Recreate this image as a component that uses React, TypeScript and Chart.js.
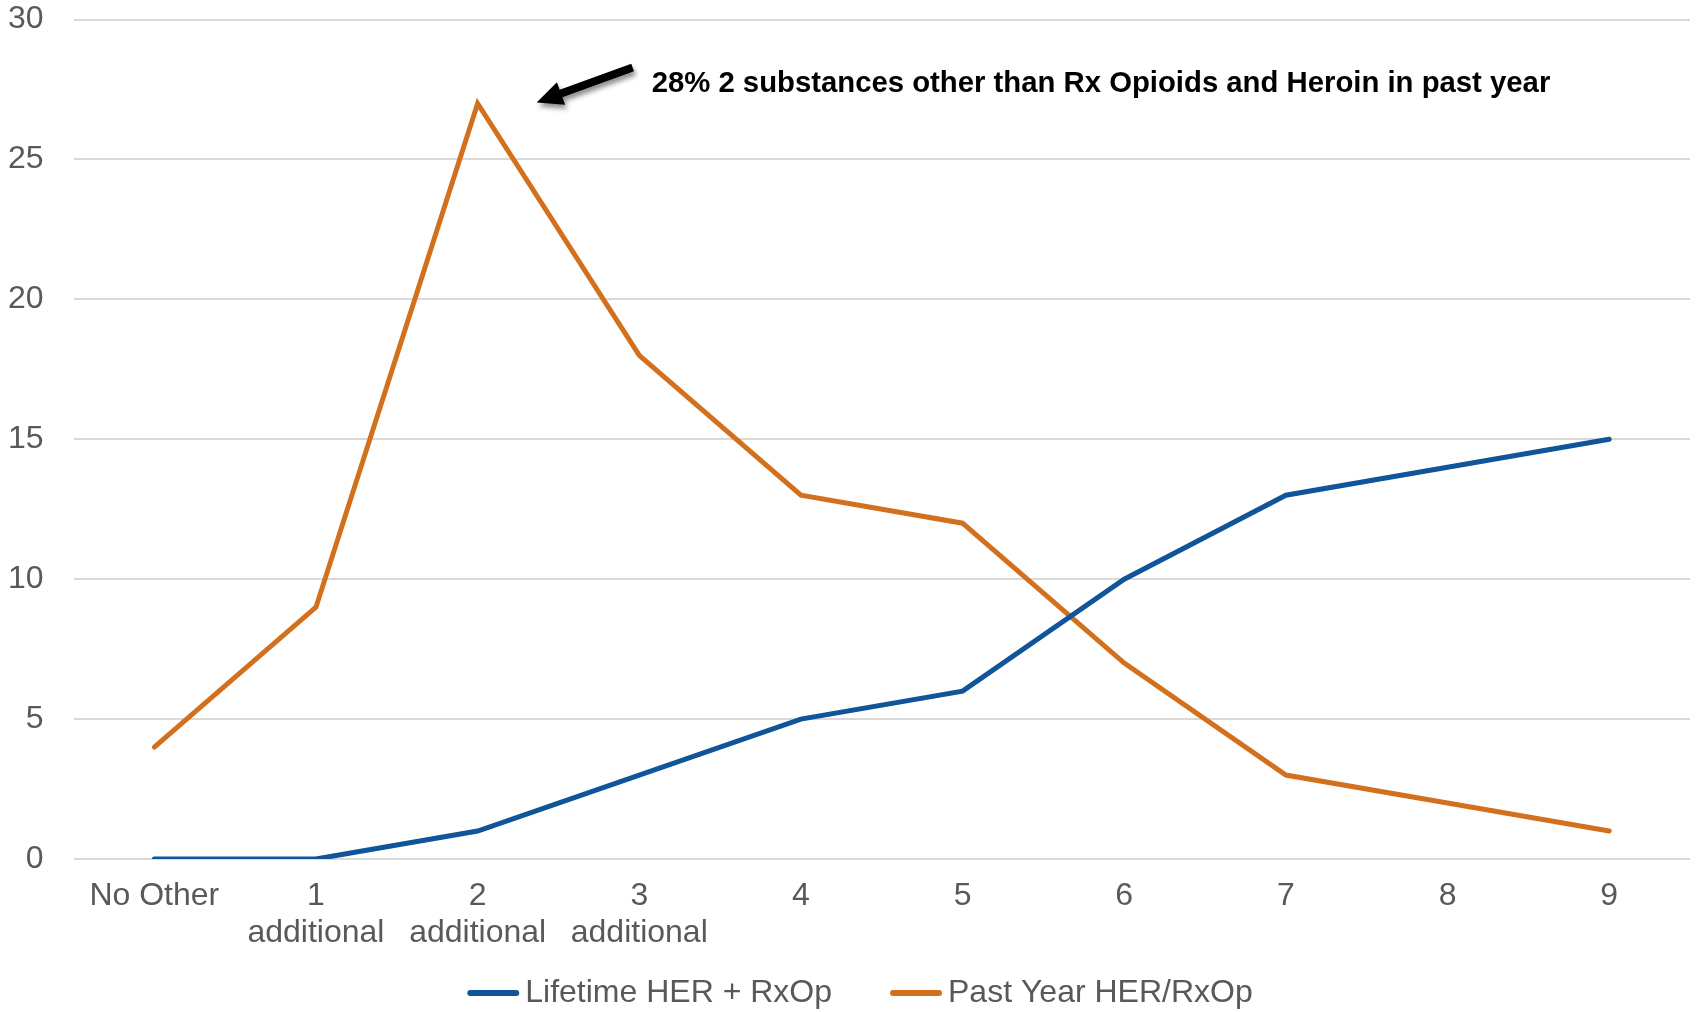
import { useEffect, useRef } from "react";
import { Chart, registerables } from "chart.js";

Chart.register(...registerables);

// Number of other substances used (x axis categories)
const categories: (string | string[])[] = [
  "No Other",
  ["1", "additional"],
  ["2", "additional"],
  ["3", "additional"],
  "4",
  "5",
  "6",
  "7",
  "8",
  "9",
];

const lifetimeLabel = "Lifetime HER + RxOp";
const pastYearLabel = "Past Year HER/RxOp";

const lifetimeValues = [0, 0, 1, 3, 5, 6, 10, 13, 14, 15];
const pastYearValues = [4, 9, 27, 18, 13, 12, 7, 3, 2, 1];

const yMin = 0;
const yMax = 30;
const yStep = 5;

const calloutText = "28% 2 substances other than Rx Opioids and Heroin in past year";
const calloutIndex = 2;

const BLUE = "#105499";
const ORANGE = "#d2701e";
const TEXT = "#595959";
const FONT = '"Liberation Sans", Arial, Helvetica, sans-serif';
const LABEL_SIZE = 32;

// Arrow + bold caption pointing at the past-year peak
const calloutPlugin = {
  id: "callout",
  afterDatasetsDraw(chart: Chart) {
    const { ctx, scales } = chart;
    const px = scales.x.getPixelForValue(calloutIndex);
    const py = scales.y.getPixelForValue(pastYearValues[calloutIndex]);

    const tipX = px + 59;
    const tipY = py - 1;
    const tailX = tipX + 96;
    const tailY = tipY - 35;

    const dx = tailX - tipX;
    const dy = tailY - tipY;
    const len = Math.hypot(dx, dy);
    const ux = dx / len;
    const uy = dy / len;
    const nx = -uy;
    const ny = ux;
    const headLen = 26;
    const headHalf = 12;
    const shaftHalf = 4;
    const bx = tipX + ux * headLen;
    const by = tipY + uy * headLen;

    ctx.save();
    ctx.shadowColor = "rgba(0,0,0,0.45)";
    ctx.shadowBlur = 5;
    ctx.shadowOffsetX = 2;
    ctx.shadowOffsetY = 4;
    ctx.fillStyle = "#000";
    ctx.beginPath();
    ctx.moveTo(tipX, tipY);
    ctx.lineTo(bx + nx * headHalf, by + ny * headHalf);
    ctx.lineTo(bx + nx * shaftHalf, by + ny * shaftHalf);
    ctx.lineTo(tailX + nx * shaftHalf, tailY + ny * shaftHalf);
    ctx.lineTo(tailX - nx * shaftHalf, tailY - ny * shaftHalf);
    ctx.lineTo(bx - nx * shaftHalf, by - ny * shaftHalf);
    ctx.lineTo(bx - nx * headHalf, by - ny * headHalf);
    ctx.closePath();
    ctx.fill();
    ctx.restore();

    ctx.save();
    ctx.fillStyle = "#000";
    ctx.font = `bold 29.3px ${FONT}`;
    ctx.textAlign = "left";
    ctx.textBaseline = "middle";
    ctx.fillText(calloutText, px + 174, py - 20);
    ctx.restore();
  },
};

// Single-row legend below the axis: short rounded line swatch + label
const legendRowPlugin = {
  id: "legendRow",
  afterDraw(chart: Chart) {
    const { ctx, chartArea } = chart;
    const swatch = 52;
    const textGap = 6;
    const itemGap = 58;
    const y = chartArea.bottom + 134;

    ctx.save();
    ctx.font = `${LABEL_SIZE}px ${FONT}`;
    const items = chart.data.datasets.map((ds: any) => ({
      label: ds.label as string,
      color: ds.borderColor as string,
      width: swatch + textGap + ctx.measureText(ds.label).width,
    }));
    const total = items.reduce((s, it) => s + it.width, 0) + itemGap * (items.length - 1);
    let x = chart.width / 2 + 12 - total / 2;

    items.forEach((it) => {
      ctx.strokeStyle = it.color;
      ctx.lineWidth = 6;
      ctx.lineCap = "round";
      ctx.beginPath();
      ctx.moveTo(x + 3, y);
      ctx.lineTo(x + swatch - 3, y);
      ctx.stroke();

      ctx.fillStyle = TEXT;
      ctx.textAlign = "left";
      ctx.textBaseline = "middle";
      ctx.fillText(it.label, x + swatch + textGap, y);
      x += it.width + itemGap;
    });
    ctx.restore();
  },
};

export default function App() {
  const canvasRef = useRef<HTMLCanvasElement | null>(null);

  useEffect(() => {
    document.body.style.margin = "0";
    const canvas = canvasRef.current;
    if (!canvas) return;

    Chart.defaults.font.family = FONT;

    const chart = new Chart(canvas, {
      type: "line",
      data: {
        labels: categories,
        datasets: [
          {
            label: lifetimeLabel,
            data: lifetimeValues,
            borderColor: BLUE,
            backgroundColor: BLUE,
            borderWidth: 5,
            borderCapStyle: "round",
            pointRadius: 0,
            tension: 0,
          },
          {
            label: pastYearLabel,
            data: pastYearValues,
            borderColor: ORANGE,
            backgroundColor: ORANGE,
            borderWidth: 5,
            borderCapStyle: "round",
            pointRadius: 0,
            tension: 0,
          },
        ],
      },
      options: {
        responsive: false,
        animation: false,
        devicePixelRatio: 1,
        layout: { padding: { top: 19.5, right: 6, left: 0, bottom: 61 } },
        plugins: {
          tooltip: { enabled: false },
          legend: { display: false },
        },
        scales: {
          x: {
            offset: true,
            grid: { display: false, drawTicks: false },
            border: { display: false },
            ticks: {
              autoSkip: false,
              maxRotation: 0,
              minRotation: 0,
              padding: 18.5,
              color: TEXT,
              font: { size: LABEL_SIZE, family: FONT, lineHeight: 1.156 },
            },
            afterFit(scale: any) {
              scale.height = 92;
            },
          },
          y: {
            min: yMin,
            max: yMax,
            grid: { color: "#d9d9d9", lineWidth: 2, drawTicks: false },
            border: { display: false },
            ticks: {
              stepSize: yStep,
              padding: 30,
              color: TEXT,
              font: { size: LABEL_SIZE, family: FONT },
            },
            afterFit(scale: any) {
              scale.width = 73.5;
              // only half a label is needed above/below the plot
              scale.paddingTop = 18;
              scale.paddingBottom = 18;
            },
          },
        },
      },
      plugins: [calloutPlugin, legendRowPlugin],
    });

    return () => chart.destroy();
  }, []);

  return (
    <div style={{ position: "absolute", left: 0, top: 0, width: 1696, height: 1012 }}>
      <canvas ref={canvasRef} width={1696} height={1012} />
    </div>
  );
}
